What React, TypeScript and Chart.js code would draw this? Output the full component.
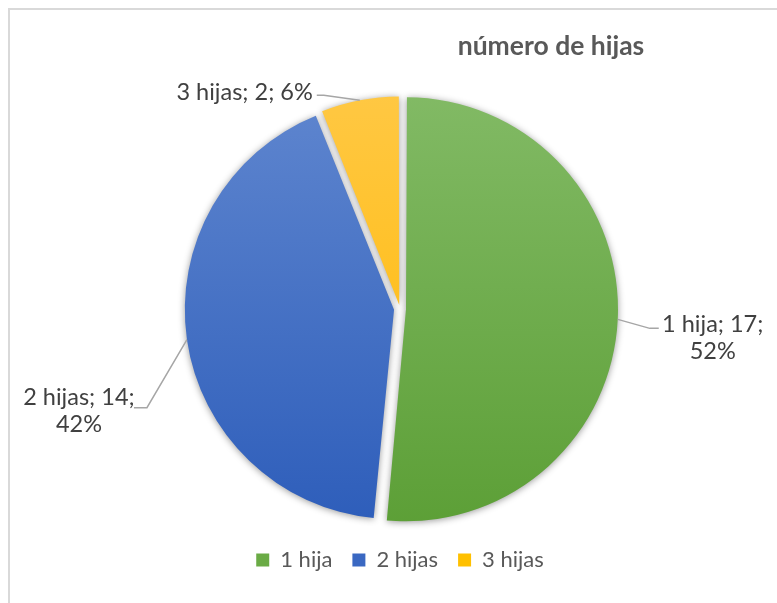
import React, { useEffect, useRef } from "react";
import { Chart, registerables } from "chart.js";

Chart.register(...registerables);

// ---- data ----
const categories = ["1 hija", "2 hijas", "3 hijas"];
const counts = [17, 14, 2];
const chartTitle = "número de hijas";

// ---- styles ----
const sliceOffsets = [24, 24, 16];
const gradTop = ["#82ba65", "#5f86cf", "#ffc844"];
const gradBottom = ["#5c9f36", "#2d5dba", "#ffb800"];
const legendColors = ["#6aab45", "#3a68c2", "#ffc000"];
const FONT = "Lato, 'Liberation Sans', sans-serif";
const LABEL_SIZE = 23.5;
const LINE_H = 27;

// label layout relative to the slice's outer mid point
const labelLayout = [
  { elbow: [32, 9], end: [41, 9], text: [95, 5], align: "center", twoLines: true },
  { elbow: [-40, 68], end: [-53, 68], text: [-108, 58], align: "center", twoLines: true },
  { elbow: [-36, -5], end: [-43, -5], text: [-47, -8], align: "right", twoLines: false },
];

const total = counts.reduce((a, b) => a + b, 0);
const pct = (v: number) => Math.round((v / total) * 100) + "%";

const gradientFill = (ctx: any) => {
  const i = ctx.dataIndex ?? 0;
  const chart = ctx.chart;
  const area = chart.chartArea;
  if (!area) return legendColors[i];
  const g = chart.ctx.createLinearGradient(0, area.top, 0, area.bottom);
  g.addColorStop(0, gradTop[i]);
  g.addColorStop(1, gradBottom[i]);
  return g;
};

const pieDecor = {
  id: "pieDecor",
  beforeDatasetsDraw(chart: any) {
    const c = chart.ctx;
    c.save();
    c.shadowColor = "rgba(0,0,0,0.4)";
    c.shadowBlur = 7;
    c.shadowOffsetX = 0;
    c.shadowOffsetY = 1;
  },
  afterDatasetsDraw(chart: any) {
    const c = chart.ctx;
    c.restore();
    const meta = chart.getDatasetMeta(0);
    meta.data.forEach((el: any, i: number) => {
      const p = el.getProps(["x", "y", "startAngle", "endAngle", "outerRadius", "circumference"], true);
      const off = (el.options.offset || 0) / 4;
      const fix = 1 - Math.sin(Math.min(Math.PI, p.circumference || 0));
      const t = off + off * fix;
      const mid = (p.startAngle + p.endAngle) / 2;
      const ax = p.x + Math.cos(mid) * (t + p.outerRadius);
      const ay = p.y + Math.sin(mid) * (t + p.outerRadius);
      const L = labelLayout[i];
      c.save();
      c.strokeStyle = "#a6a6a6";
      c.lineWidth = 1.5;
      c.beginPath();
      c.moveTo(ax, ay);
      c.lineTo(ax + L.elbow[0], ay + L.elbow[1]);
      c.lineTo(ax + L.end[0], ay + L.end[1]);
      c.stroke();
      c.fillStyle = "#404040";
      c.font = `${LABEL_SIZE}px ${FONT}`;
      c.textAlign = L.align as CanvasTextAlign;
      c.textBaseline = "middle";
      const lines = L.twoLines
        ? [`${categories[i]}; ${counts[i]};`, pct(counts[i])]
        : [`${categories[i]}; ${counts[i]}; ${pct(counts[i])}`];
      lines.forEach((s, k) => c.fillText(s, ax + L.text[0], ay + L.text[1] + k * LINE_H));
      c.restore();
    });
  },
  afterDraw(chart: any) {
    const c = chart.ctx;
    c.save();
    c.fillStyle = "#595959";
    c.font = `bold 26.5px ${FONT}`;
    c.textAlign = "center";
    c.textBaseline = "middle";
    c.fillText(chartTitle, 551, 46);
    c.restore();
  },
};

export default function App() {
  const ref = useRef<HTMLCanvasElement>(null);
  useEffect(() => {
    const canvas = ref.current!;
    const chart = new Chart(canvas, {
      type: "pie",
      data: {
        labels: categories,
        datasets: [
          {
            data: counts,
            backgroundColor: gradientFill as any,
            borderWidth: 0,
            offset: sliceOffsets,
            hoverOffset: 0,
          },
        ],
      },
      options: {
        animation: false,
        responsive: false,
        devicePixelRatio: 1,
        layout: { padding: { left: 182, right: 159, top: 89, bottom: 22 } },
        plugins: {
          title: { display: false },
          tooltip: { enabled: false },
          legend: {
            position: "bottom",
            labels: {
              boxWidth: 13,
              boxHeight: 13,
              padding: 20,
              color: "#595959",
              font: { family: FONT, size: 22 },
              generateLabels: () =>
                categories.map((text, i) => ({
                  text,
                  fillStyle: legendColors[i],
                  strokeStyle: legendColors[i],
                  lineWidth: 0,
                  hidden: false,
                  index: i,
                  fontColor: "#595959",
                })),
            },
          },
        },
      },
      plugins: [pieDecor],
    });
    return () => chart.destroy();
  }, []);
  return (
    <div style={{ position: "fixed", left: 0, top: 0, width: 777, height: 603, overflow: "hidden", background: "#fff" }}>
      <div
        style={{
          position: "absolute",
          left: 8,
          top: 8,
          width: 900,
          height: 700,
          border: "2px solid #d9d9d9",
          boxSizing: "border-box",
        }}
      />
      <canvas ref={ref} width={777} height={603} style={{ position: "absolute", left: 0, top: 0, width: 777, height: 603 }} />
    </div>
  );
}
